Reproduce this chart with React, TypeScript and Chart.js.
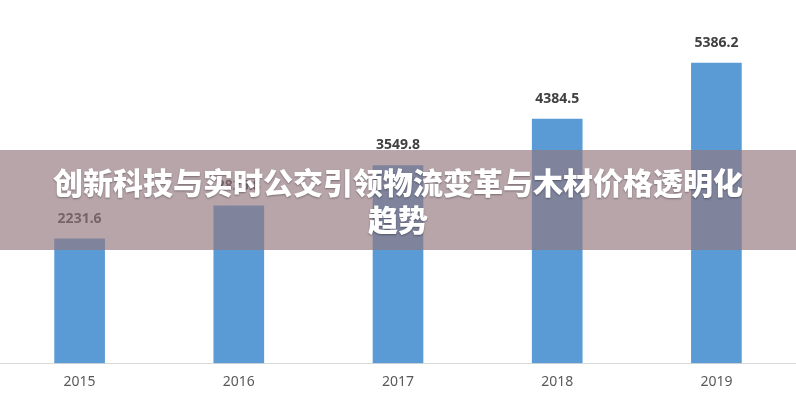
import React, { useEffect, useRef } from "react";
import { Chart, registerables } from "chart.js";

Chart.register(...registerables);

const years = ["2015", "2016", "2017", "2018", "2019"];
const values = [2231.6, 2826.8, 3549.8, 4384.5, 5386.2];
const valueLabels = ["2231.6", "2826.8", "3549.8", "4384.5", "5386.2"];
const titleLine1 = "创新科技与实时公交引领物流变革与木材价格透明化";
const titleLine2 = "趋势";

const valueLabelPlugin = {
  id: "valueLabels",
  afterDatasetsDraw(chart: any) {
    const ctx = chart.ctx;
    const meta = chart.getDatasetMeta(0);
    ctx.save();
    ctx.font = "bold 14px 'Noto Sans', 'DejaVu Sans', sans-serif";
    ctx.fillStyle = "#404040";
    ctx.textAlign = "center";
    ctx.textBaseline = "bottom";
    meta.data.forEach((bar: any, i: number) => {
      ctx.fillText(valueLabels[i], bar.x, bar.y - 13);
    });
    ctx.restore();
  },
};

export default function App() {
  const ref = useRef<HTMLCanvasElement | null>(null);

  useEffect(() => {
    if (!ref.current) return;
    const chart = new Chart(ref.current, {
      type: "bar",
      data: {
        labels: years,
        datasets: [
          {
            data: values,
            backgroundColor: "#5b9bd5",
            barThickness: 50,
          },
        ],
      },
      options: {
        animation: false,
        responsive: false,
        layout: { padding: { top: 29, bottom: 0, left: 0, right: 0 } },
        plugins: {
          legend: { display: false },
          tooltip: { enabled: false },
          title: { display: false },
        },
        scales: {
          x: {
            grid: { display: false, drawTicks: false },
            border: { display: true, color: "#d9d9d9", width: 1 },
            ticks: {
              color: "#595959",
              font: { size: 14, family: "'Noto Sans', 'DejaVu Sans', sans-serif" },
              padding: 10,
            },
          },
          y: {
            display: false,
            min: 0,
            max: 6000,
          },
        },
      },
      plugins: [valueLabelPlugin],
    });
    return () => chart.destroy();
  }, []);

  return (
    <div
      style={{
        position: "fixed",
        left: 0,
        top: 0,
        width: 796,
        height: 400,
        background: "#ffffff",
      }}
    >
      <canvas ref={ref} width={796} height={400} style={{ display: "block" }} />
      <div
        style={{
          position: "absolute",
          left: 0,
          top: 150,
          width: 796,
          height: 100,
          background: "rgba(145,118,126,0.66)",
          display: "flex",
          flexDirection: "column",
          alignItems: "center",
          justifyContent: "center",
          color: "#ffffff",
          fontFamily: "'Noto Sans CJK SC', sans-serif",
          fontWeight: 900,
          fontSize: 30,
          lineHeight: "37px",
          textAlign: "center",
          textShadow: "0 1px 2px rgba(0,0,0,0.35)",
        }}
      >
        <div>{titleLine1}</div>
        <div>{titleLine2}</div>
      </div>
    </div>
  );
}
